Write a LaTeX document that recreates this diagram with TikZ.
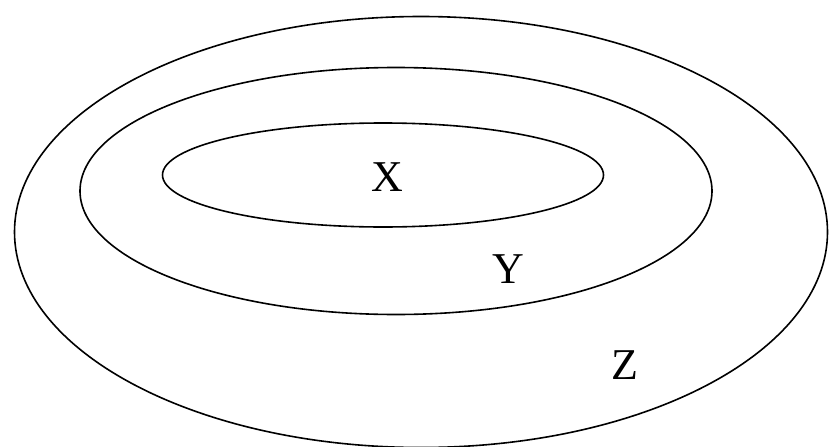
\documentclass[tikz,border=0pt]{standalone}
\usepackage{fontspec}
\setmainfont{Liberation Serif}
\usetikzlibrary{shapes.geometric}
\tikzset{
  ring/.style={draw=black,ellipse,line width=1.6pt,inner sep=0pt,outer sep=0pt},
  lbl/.style={font=\fontsize{44}{44}\selectfont,inner sep=0pt}}
\begin{document}
\begin{tikzpicture}[x=1pt,y=-1pt]
\useasboundingbox[fill=white] (0,0) rectangle (830,447);
\node[ring,minimum width=813pt,minimum height=431pt] (zset) at (421,232) {};
\node[ring,minimum width=632pt,minimum height=247pt] (yset) at (396,191) {};
\node[ring,minimum width=441pt,minimum height=104pt] (xset) at (383,175) {};
\node[lbl] (xlab) at (387,177) {X};
\node[lbl] (ylab) at (508,269) {Y};
\node[lbl] (zlab) at (625,365) {Z};
\end{tikzpicture}
\end{document}
